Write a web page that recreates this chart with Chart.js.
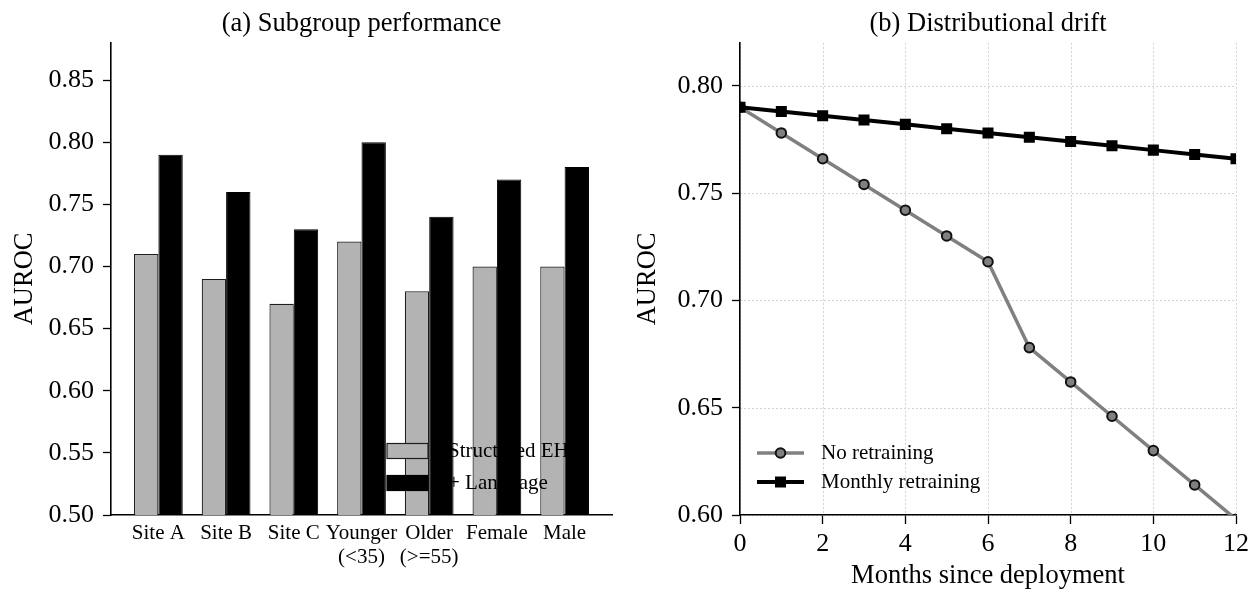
<!DOCTYPE html>
<html>
<head>
<meta charset="utf-8">
<title>Subgroup performance and distributional drift</title>
<script src="https://cdn.jsdelivr.net/npm/chart.js@4.4.0/dist/chart.umd.min.js"></script>
<style>
  body { margin: 0; background: #fff; }
  #wrap { position: relative; width: 1255px; height: 592px; }
  canvas { position: absolute; top: 0; }
</style>
</head>
<body>
<div id="wrap">
  <canvas id="barChart" width="627" height="592" style="left:0"></canvas>
  <canvas id="lineChart" width="628" height="592" style="left:627px"></canvas>
</div>
<script>
// (a) subgroup performance
const subgroups = ["Site A", "Site B", "Site C", ["Younger", "(<35)"], ["Older", "(>=55)"], "Female", "Male"];
const structuredEhr = [0.71, 0.69, 0.67, 0.72, 0.68, 0.70, 0.70];
const withLanguage = [0.79, 0.76, 0.73, 0.80, 0.74, 0.77, 0.78];
const barYTicks = [0.50, 0.55, 0.60, 0.65, 0.70, 0.75, 0.80, 0.85];

// (b) distributional drift
const months = [0, 1, 2, 3, 4, 5, 6, 7, 8, 9, 10, 11, 12];
const noRetraining = [0.790, 0.778, 0.766, 0.754, 0.742, 0.730, 0.718, 0.678, 0.662, 0.646, 0.630, 0.614, 0.598];
const monthlyRetraining = [0.790, 0.788, 0.786, 0.784, 0.782, 0.780, 0.778, 0.776, 0.774, 0.772, 0.770, 0.768, 0.766];
const driftXTicks = [0, 2, 4, 6, 8, 10, 12];
const driftYTicks = [0.60, 0.65, 0.70, 0.75, 0.80];

const SERIF = '"Liberation Serif", "Times New Roman", serif';
const GRAY_BAR = "#b3b3b3";
const GRAY_LINE = "#808080";

Chart.defaults.font.family = SERIF;
Chart.defaults.color = "#000";

// legend drawn on top of the bars, like the original
const barLegend = {
  id: "barLegend",
  afterDatasetsDraw(chart) {
    const { ctx, chartArea } = chart;
    const items = [
      { label: "Structured EHR", fill: GRAY_BAR, edge: "#1e1e1e" },
      { label: "+ Language", fill: "#000", edge: "#000" },
    ];
    const x0 = chartArea.right - 225;
    ctx.save();
    ctx.font = "21px " + SERIF;
    ctx.textBaseline = "middle";
    items.forEach((it, i) => {
      const y = chartArea.bottom - 64 + i * 32;
      ctx.fillStyle = it.fill;
      ctx.fillRect(x0, y - 7.5, 41, 15);
      ctx.strokeStyle = it.edge;
      ctx.lineWidth = 1.2;
      ctx.strokeRect(x0, y - 7.5, 41, 15);
      ctx.fillStyle = "#000";
      ctx.fillText(it.label, x0 + 61, y);
    });
    ctx.restore();
  },
};

const lineLegend = {
  id: "lineLegend",
  afterDatasetsDraw(chart) {
    const { ctx, chartArea } = chart;
    const x0 = chartArea.left + 17;
    ctx.save();
    ctx.font = "21px " + SERIF;
    ctx.textBaseline = "middle";
    // No retraining
    let y = chartArea.bottom - 62;
    ctx.strokeStyle = GRAY_LINE;
    ctx.lineWidth = 3.5;
    ctx.beginPath();
    ctx.moveTo(x0, y);
    ctx.lineTo(x0 + 47, y);
    ctx.stroke();
    ctx.beginPath();
    ctx.arc(x0 + 23.5, y, 4.8, 0, Math.PI * 2);
    ctx.fillStyle = GRAY_LINE;
    ctx.fill();
    ctx.lineWidth = 2;
    ctx.strokeStyle = "#111";
    ctx.stroke();
    ctx.fillStyle = "#000";
    ctx.fillText("No retraining", x0 + 64, y);
    // Monthly retraining
    y = chartArea.bottom - 33;
    ctx.strokeStyle = "#000";
    ctx.lineWidth = 4;
    ctx.beginPath();
    ctx.moveTo(x0, y);
    ctx.lineTo(x0 + 47, y);
    ctx.stroke();
    ctx.fillRect(x0 + 18, y - 5.5, 11, 11);
    ctx.fillText("Monthly retraining", x0 + 64, y);
    ctx.restore();
  },
};

// dotted grid under the axes
const dottedGrid = {
  id: "dottedGrid",
  beforeDraw(chart) {
    const { ctx, chartArea: a, scales } = chart;
    ctx.save();
    ctx.strokeStyle = "#d4d4d4";
    ctx.lineWidth = 1;
    ctx.setLineDash([2, 2]);
    driftXTicks.forEach((v) => {
      const px = Math.round(scales.x.getPixelForValue(v)) + 0.5;
      ctx.beginPath();
      ctx.moveTo(px, a.top);
      ctx.lineTo(px, a.bottom);
      ctx.stroke();
    });
    driftYTicks.forEach((v) => {
      const py = Math.round(scales.y.getPixelForValue(v)) + 0.5;
      ctx.beginPath();
      ctx.moveTo(a.left, py);
      ctx.lineTo(a.right, py);
      ctx.stroke();
    });
    ctx.restore();
  },
};

const axisBorder = { color: "#000", width: 1.6 };
const tickGrid = { display: true, drawOnChartArea: false, tickLength: 8, tickColor: "#000", tickWidth: 1.3 };
const titleFont = { size: 26.5, weight: "normal" };

new Chart(document.getElementById("barChart"), {
  type: "bar",
  data: {
    datasets: [
      {
        label: "Structured EHR",
        data: structuredEhr.map((v, i) => ({ x: i, y: v })),
        backgroundColor: GRAY_BAR,
        borderColor: "#1e1e1e",
        borderWidth: 1.2,
        borderSkipped: "start",
      },
      {
        label: "+ Language",
        data: withLanguage.map((v, i) => ({ x: i, y: v })),
        backgroundColor: "#000",
        borderColor: "#000",
        borderWidth: 1,
        borderSkipped: "start",
      },
    ],
  },
  options: {
    responsive: false,
    animation: false,
    categoryPercentage: 0.72,
    barPercentage: 1,
    layout: { padding: { left: 0, right: 15, top: 0, bottom: 0 } },
    plugins: {
      legend: { display: false },
      tooltip: { enabled: false },
      title: {
        display: true,
        text: "(a) Subgroup performance",
        fullSize: false,
        color: "#000",
        font: titleFont,
        padding: { top: 8, bottom: 3 },
      },
    },
    scales: {
      x: {
        type: "linear",
        min: -0.7,
        max: 6.7,
        offset: false,
        afterBuildTicks: (s) => { s.ticks = subgroups.map((_, i) => ({ value: i })); },
        afterFit: (s) => { s.height = 77; },
        ticks: {
          autoSkip: false,
          maxRotation: 0,
          minRotation: 0,
          padding: 6,
          font: { size: 21, lineHeight: 1.15 },
          callback: (v, i) => subgroups[i],
        },
        grid: { display: false, drawTicks: false },
        border: axisBorder,
      },
      y: {
        min: 0.5,
        max: 0.88,
        afterBuildTicks: (s) => { s.ticks = barYTicks.map((v) => ({ value: v })); },
        afterFit: (s) => { s.width = 111; },
        ticks: { padding: 9, font: { size: 26 }, callback: (v) => v.toFixed(2) },
        grid: tickGrid,
        border: axisBorder,
        title: { display: true, text: "AUROC", font: { size: 26.5 }, padding: { top: 9, bottom: 0 } },
      },
    },
  },
  plugins: [barLegend],
});

new Chart(document.getElementById("lineChart"), {
  type: "line",
  data: {
    datasets: [
      {
        label: "No retraining",
        data: months.map((m, i) => ({ x: m, y: noRetraining[i] })),
        borderColor: GRAY_LINE,
        borderWidth: 3.5,
        pointRadius: 4.8,
        pointBackgroundColor: GRAY_LINE,
        pointBorderColor: "#111",
        pointBorderWidth: 2,
        order: 1,
        clip: 0,
      },
      {
        label: "Monthly retraining",
        data: months.map((m, i) => ({ x: m, y: monthlyRetraining[i] })),
        borderColor: "#000",
        borderWidth: 4,
        pointStyle: "rect",
        pointRadius: 7.8,
        pointBackgroundColor: "#000",
        pointBorderColor: "#000",
        pointBorderWidth: 0,
        order: 0,
        clip: 0,
      },
    ],
  },
  options: {
    responsive: false,
    animation: false,
    layout: { padding: { left: 0, right: 19, top: 0, bottom: 0 } },
    plugins: {
      legend: { display: false },
      tooltip: { enabled: false },
      title: {
        display: true,
        text: "(b) Distributional drift",
        fullSize: false,
        color: "#000",
        font: titleFont,
        padding: { top: 8, bottom: 3 },
      },
    },
    scales: {
      x: {
        type: "linear",
        min: 0,
        max: 12,
        afterBuildTicks: (s) => { s.ticks = driftXTicks.map((v) => ({ value: v })); },
        afterFit: (s) => { s.height = 77; },
        ticks: { maxRotation: 0, padding: 5, font: { size: 26 } },
        grid: { ...tickGrid, tickLength: 9 },
        border: axisBorder,
        title: { display: true, text: "Months since deployment", font: { size: 26.5 }, padding: { top: 0, bottom: 0 } },
      },
      y: {
        min: 0.6,
        max: 0.82,
        afterBuildTicks: (s) => { s.ticks = driftYTicks.map((v) => ({ value: v })); },
        afterFit: (s) => { s.width = 113; },
        ticks: { padding: 9, font: { size: 26 }, callback: (v) => v.toFixed(2) },
        grid: tickGrid,
        border: axisBorder,
        title: { display: true, text: "AUROC", font: { size: 26.5 }, padding: { top: 5, bottom: 0 } },
      },
    },
  },
  plugins: [dottedGrid, lineLegend],
});
</script>
</body>
</html>
